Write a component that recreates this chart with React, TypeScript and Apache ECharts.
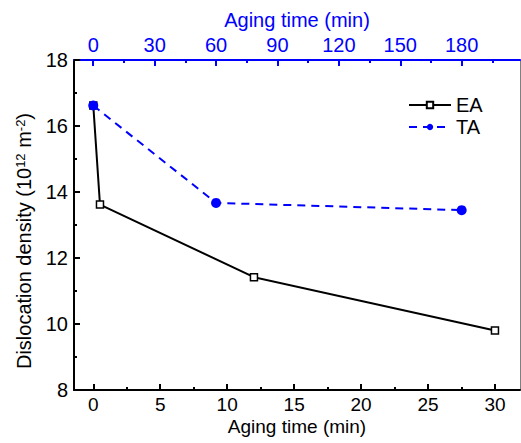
import React, { useEffect, useRef } from "react";
import * as echarts from "echarts";

const eaTime = [0, 0.5, 12, 30];
const eaDensity = [16.62, 13.62, 11.42, 9.8];
const taTime = [0, 60, 180];
const taDensity = [16.62, 13.67, 13.45];
const bottomTicks = [0, 5, 10, 15, 20, 25, 30];
const bottomMinor = [2.5, 7.5, 12.5, 17.5, 22.5, 27.5];
const topTicks = [0, 30, 60, 90, 120, 150, 180];
const topMinor = [15, 45, 75, 105, 135, 165, 195];

const FONT = "Liberation Sans";
const FS = 20;
const FSB = 19;
const BLUE = "#0000ff";

export default function App() {
  const ref = useRef<HTMLDivElement>(null);
  useEffect(() => {
    if (!ref.current) return;
    const chart = echarts.init(ref.current, null, { renderer: "svg" });
    const bMin = -1.44, bMax = 31.87;
    const tMin = -9.4, tMax = 208.5;
    chart.setOption({
      animation: false,
      textStyle: { fontFamily: FONT },
      grid: { left: 74, right: 1, top: 60, bottom: 53, containLabel: false, outerBoundsMode: "none" },
      legend: {
        orient: "vertical",
        left: 403,
        top: 90,
        itemWidth: 42,
        itemHeight: 8,
        itemGap: 2,
        textStyle: { fontFamily: FONT, fontSize: FS, color: "#000" },
        data: ["EA", "TA"],
      },
      xAxis: [
        {
          type: "value",
          position: "bottom",
          min: bMin,
          max: bMax,
          axisLine: { show: true, onZero: false, lineStyle: { color: "#000", width: 2 } },
          axisTick: { show: true, inside: true, length: 6, lineStyle: { width: 2, color: "#000" }, customValues: bottomTicks },
          axisLabel: { customValues: bottomTicks, fontFamily: FONT, fontSize: FSB, color: "#000", margin: 5 },
          splitLine: { show: false },
          name: "Aging time (min)",
          nameLocation: "middle",
          nameGap: 27,
          nameMoveOverlap: false,
          nameTextStyle: { fontFamily: FONT, fontSize: FSB, color: "#000" },
        },
        {
          type: "value",
          position: "bottom",
          min: bMin,
          max: bMax,
          axisLine: { show: false, onZero: false },
          axisTick: { show: true, inside: true, length: 3, lineStyle: { width: 2, color: "#000" }, customValues: bottomMinor },
          axisLabel: { show: false },
          splitLine: { show: false },
        },
        {
          type: "value",
          position: "top",
          min: tMin,
          max: tMax,
          axisLine: { show: true, onZero: false, lineStyle: { color: BLUE, width: 2 } },
          axisTick: { show: true, inside: true, length: 6, lineStyle: { width: 2, color: BLUE }, customValues: topTicks },
          axisLabel: { customValues: topTicks, fontFamily: FONT, fontSize: FS, color: BLUE, margin: 5 },
          splitLine: { show: false },
          name: "Aging time (min)",
          nameLocation: "middle",
          nameGap: 29,
          nameTextStyle: { fontFamily: FONT, fontSize: FS, color: BLUE },
        },
        {
          type: "value",
          position: "top",
          min: tMin,
          max: tMax,
          axisLine: { show: false, onZero: false },
          axisTick: { show: true, inside: true, length: 3, lineStyle: { width: 2, color: BLUE }, customValues: topMinor },
          axisLabel: { show: false },
          splitLine: { show: false },
        },
      ],
      yAxis: [
        {
          type: "value",
          position: "left",
          min: 8,
          max: 18,
          interval: 2,
          axisLine: { show: true, onZero: false, lineStyle: { color: "#000", width: 2 } },
          axisTick: { show: true, inside: true, length: 6, lineStyle: { width: 2, color: "#000" } },
          minorTick: { show: true, splitNumber: 2, length: 3, lineStyle: { width: 2, color: "#000" } },
          axisLabel: { fontFamily: FONT, fontSize: FS, color: "#000", margin: 6 },
          splitLine: { show: false },
        },
        {
          type: "value",
          position: "right",
          min: 8,
          max: 18,
          axisLine: { show: true, onZero: false, lineStyle: { color: "#808080", width: 1 } },
          axisTick: { show: false },
          axisLabel: { show: false },
          splitLine: { show: false },
        },
      ],
      graphic: [
        {
          type: "text",
          x: 24,
          y: 241,
          rotation: Math.PI / 2,
          style: {
            text: "Dislocation density (10{sup|12} m{sup|-2})",
            fontFamily: FONT,
            fontSize: FS,
            fill: "#000",
            align: "center",
            verticalAlign: "middle",
            rich: {
              sup: { fontFamily: FONT, fontSize: 13, verticalAlign: "top", padding: [0, 0, 8, 0] },
            },
          },
        },
      ],
      series: [
        {
          name: "EA",
          type: "line",
          xAxisIndex: 0,
          yAxisIndex: 0,
          z: 2,
          data: eaTime.map((t, i) => [t, eaDensity[i]]),
          color: "#000",
          symbol: "rect",
          symbolSize: 7,
          lineStyle: { color: "#000", width: 2 },
          itemStyle: { color: "#fff", borderColor: "#000", borderWidth: 1.5 },
        },
        {
          name: "TA",
          type: "line",
          xAxisIndex: 2,
          yAxisIndex: 0,
          z: 3,
          data: taTime.map((t, i) => [t, taDensity[i]]),
          color: BLUE,
          symbol: "circle",
          symbolSize: 10,
          lineStyle: { color: BLUE, width: 2, type: [8, 6] },
          itemStyle: { color: BLUE },
        },
      ],
    });
    return () => chart.dispose();
  }, []);
  return <div ref={ref} style={{ position: "absolute", left: 0, top: 0, width: 521, height: 443 }} />;
}
